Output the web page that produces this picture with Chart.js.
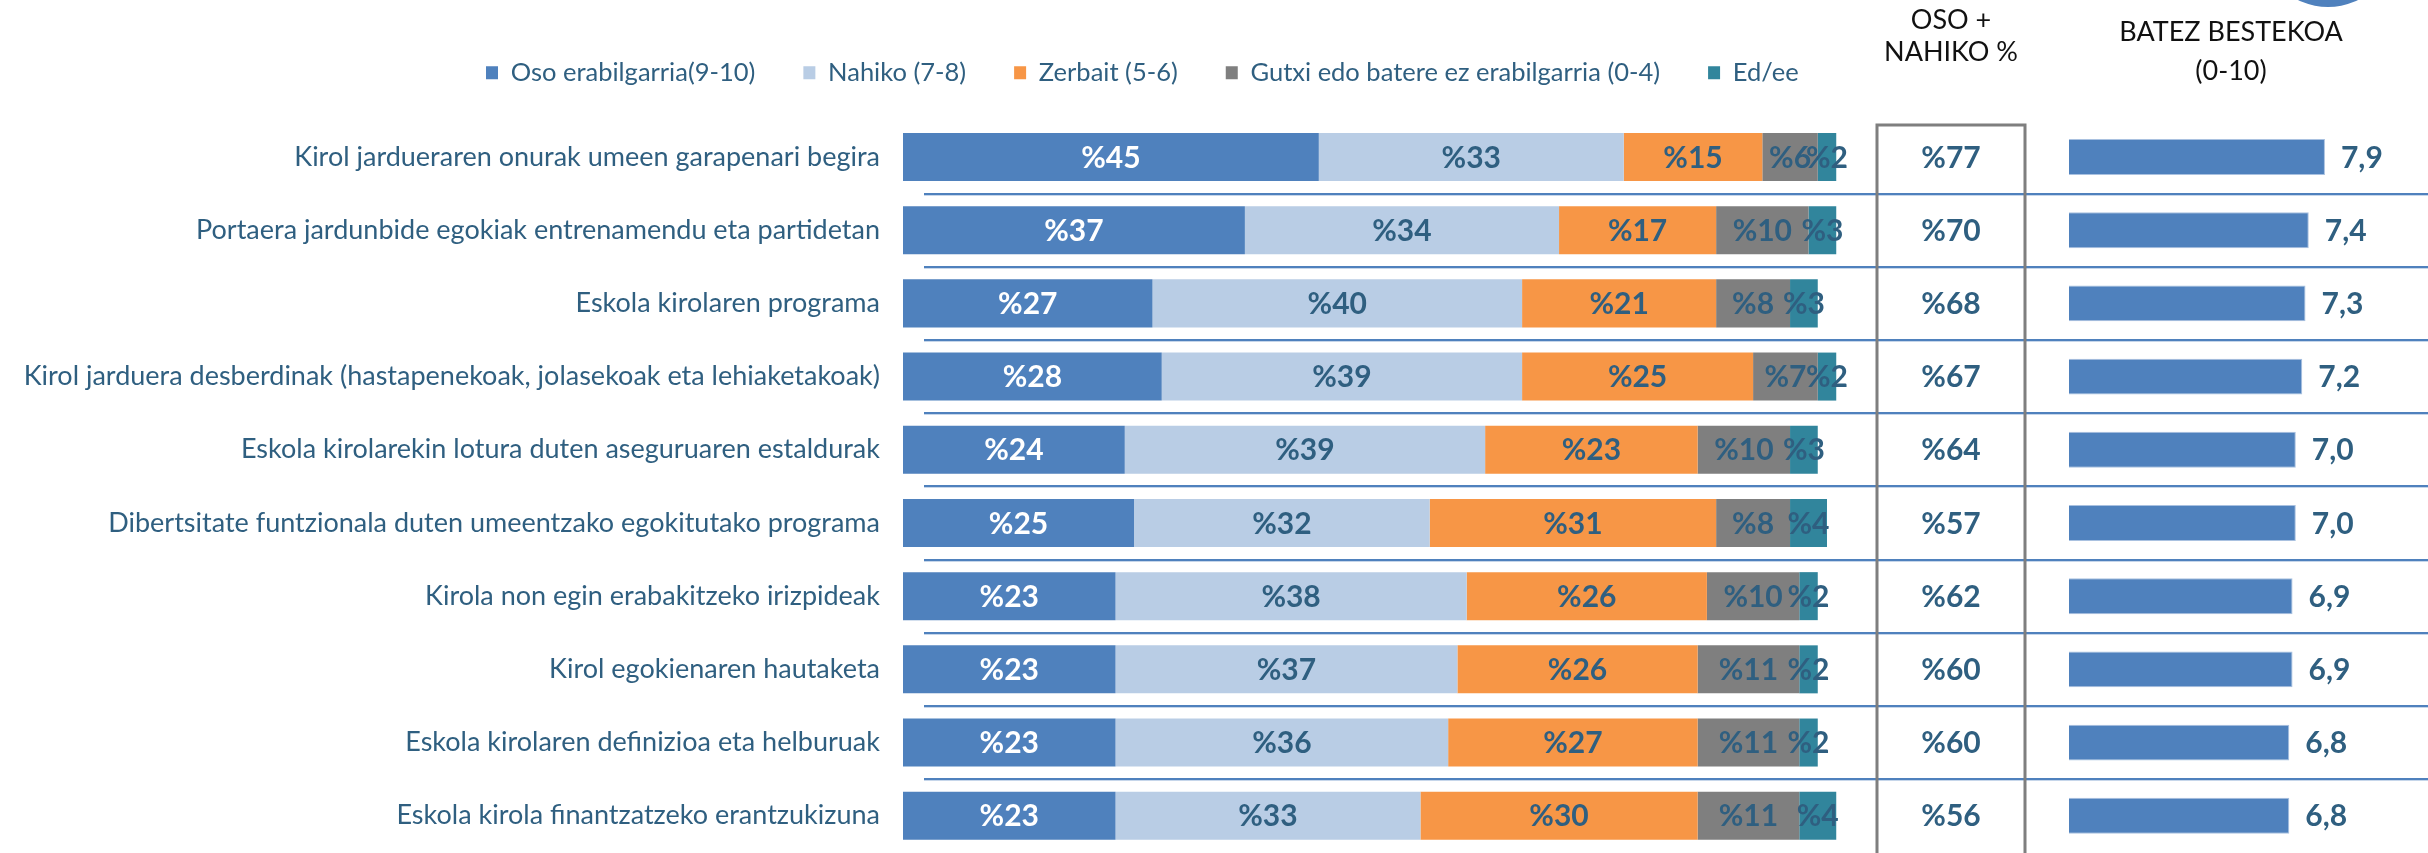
<!DOCTYPE html>
<html>
<head>
<meta charset="utf-8">
<script src="https://cdn.jsdelivr.net/npm/chart.js@4.4.0/dist/chart.umd.min.js"></script>
<style>
  html, body { margin: 0; padding: 0; background: #fff; }
  #wrap { position: relative; width: 2428px; height: 853px; overflow: hidden; }
  #wrap canvas { position: absolute; left: 0; top: 0; }
</style>
</head>
<body>
<div id="wrap">
  <canvas id="mainChart" width="2428" height="853"></canvas>
  <canvas id="meanChart" width="2428" height="853"></canvas>
</div>
<script>
const categories = [
  'Kirol jardueraren onurak umeen garapenari begira',
  'Portaera jardunbide egokiak entrenamendu eta partidetan',
  'Eskola kirolaren programa',
  'Kirol jarduera desberdinak (hastapenekoak, jolasekoak eta lehiaketakoak)',
  'Eskola kirolarekin lotura duten aseguruaren estaldurak',
  'Dibertsitate funtzionala duten umeentzako egokitutako programa',
  'Kirola non egin erabakitzeko irizpideak',
  'Kirol egokienaren hautaketa',
  'Eskola kirolaren definizioa eta helburuak',
  'Eskola kirola finantzatzeko erantzukizuna'
];
const seriesNames = ['Oso erabilgarria(9-10)', 'Nahiko (7-8)', 'Zerbait (5-6)', 'Gutxi edo batere ez erabilgarria (0-4)', 'Ed/ee'];
const osoValues     = [45, 37, 27, 28, 24, 25, 23, 23, 23, 23];
const nahikoValues  = [33, 34, 40, 39, 39, 32, 38, 37, 36, 33];
const zerbaitValues = [15, 17, 21, 25, 23, 31, 26, 26, 27, 30];
const gutxiValues   = [6, 10, 8, 7, 10, 8, 10, 11, 11, 11];
const edeeValues    = [2, 3, 3, 2, 3, 4, 2, 2, 2, 4];
const osoNahikoValues = [77, 70, 68, 67, 64, 57, 62, 60, 60, 56];
const meanValues = [7.9, 7.4, 7.3, 7.2, 7.0, 7.0, 6.9, 6.9, 6.8, 6.8];

const colors = ['#4F81BD', '#B9CDE5', '#F79646', '#7F7F7F', '#31859C'];
const textBlue = '#2F5F80';
const boldFont = 'bold 30px Lato';

// percent labels inside the stacked segments + all the side decoration
const mainDecor = {
  id: 'mainDecor',
  beforeLayout(chart) {
    const lg = chart.legend;
    if (lg && !lg._patched) {
      const fit = lg.fit;
      lg.fit = function () {
        this.maxWidth = 3000;
        fit.call(this);
        this.height = 108.4;
      };
      lg._patched = true;
    }
  },
  afterLayout(chart) {
    // legend starts where the reference legend starts
    chart.legend.left = 438;
    chart.legend.right = 2428;
  },
  afterDraw(chart) {
    const ctx = chart.ctx;
    const y = chart.scales.y;
    ctx.save();

    // row separators
    for (let i = 0; i < categories.length - 1; i++) {
      const yy = Math.round((y.getPixelForValue(i) + y.getPixelForValue(i + 1)) / 2);
      ctx.fillStyle = '#C6D6EA';
      ctx.fillRect(924, yy + 1, 2428 - 924, 1);
      ctx.fillStyle = '#4F81BD';
      ctx.fillRect(924, yy - 1, 2428 - 924, 2);
    }

    // OSO + NAHIKO box
    ctx.strokeStyle = '#7F7F7F';
    ctx.lineWidth = 3;
    ctx.beginPath();
    ctx.moveTo(1877, 860);
    ctx.lineTo(1877, 125);
    ctx.lineTo(2025, 125);
    ctx.lineTo(2025, 860);
    ctx.stroke();

    // headers
    ctx.fillStyle = '#111';
    ctx.font = '27px Lato';
    ctx.textAlign = 'center';
    ctx.textBaseline = 'middle';
    ctx.fillText('OSO +', 1951, 20);
    ctx.fillText('NAHIKO %', 1951, 52);
    ctx.fillText('BATEZ BESTEKOA', 2231, 32);
    ctx.fillText('(0-10)', 2231, 71);

    // decoration circle at top right
    ctx.fillStyle = '#4F81BD';
    ctx.beginPath();
    ctx.arc(2328, -61, 68, 0, Math.PI * 2);
    ctx.fill();

    // segment labels
    ctx.font = boldFont;
    chart.data.datasets.forEach((ds, di) => {
      const meta = chart.getDatasetMeta(di);
      meta.data.forEach((bar, i) => {
        ctx.fillStyle = di === 0 ? '#FFFFFF' : textBlue;
        ctx.fillText('%' + ds.data[i], (bar.x + bar.base) / 2, bar.y + 1);
      });
    });

    // OSO + NAHIKO values
    ctx.fillStyle = textBlue;
    osoNahikoValues.forEach((v, i) => {
      ctx.fillText('%' + v, 1951, y.getPixelForValue(i) + 1);
    });
    ctx.restore();
  }
};

const seriesData = [osoValues, nahikoValues, zerbaitValues, gutxiValues, edeeValues];

new Chart(document.getElementById('mainChart'), {
  type: 'bar',
  data: {
    labels: categories,
    datasets: seriesNames.map((name, i) => ({
      label: name,
      data: seriesData[i],
      backgroundColor: colors[i],
      barPercentage: 0.656,
      categoryPercentage: 1,
      clip: false
    }))
  },
  options: {
    responsive: false,
    animation: false,
    indexAxis: 'y',
    layout: { padding: { left: 0, right: 601, top: 12, bottom: 0.6 } },
    plugins: {
      legend: {
        position: 'top',
        align: 'start',
        labels: {
          boxWidth: 12,
          boxHeight: 13,
          padding: 48,
          color: textBlue,
          font: { family: 'Lato', size: 25.5 }
        }
      },
      tooltip: { enabled: false }
    },
    scales: {
      x: { stacked: true, min: 0, max: 100, display: false },
      y: {
        stacked: true,
        grid: { display: true, drawOnChartArea: false, drawTicks: true, tickLength: 23, tickColor: 'rgba(0,0,0,0)' },
        border: { display: false },
        ticks: { color: textBlue, font: { family: 'Lato', size: 27, lineHeight: 0.05 }, padding: 0 },
        afterFit(scale) { scale.width = 903; }
      }
    }
  },
  plugins: [mainDecor]
});

const meanLabels = {
  id: 'meanLabels',
  afterDatasetsDraw(chart) {
    const ctx = chart.ctx;
    ctx.save();
    ctx.font = boldFont;
    ctx.fillStyle = textBlue;
    ctx.textAlign = 'left';
    ctx.textBaseline = 'middle';
    chart.getDatasetMeta(0).data.forEach((bar, i) => {
      ctx.fillText(meanValues[i].toFixed(1).replace('.', ','), bar.x + 16, bar.y + 1);
    });
    ctx.restore();
  }
};

new Chart(document.getElementById('meanChart'), {
  type: 'bar',
  data: {
    labels: categories,
    datasets: [{
      label: 'BATEZ BESTEKOA',
      data: meanValues,
      backgroundColor: '#4F81BD',
      borderColor: '#A9C1E0',
      borderWidth: 1,
      barPercentage: 0.49,
      categoryPercentage: 1
    }]
  },
  options: {
    responsive: false,
    animation: false,
    indexAxis: 'y',
    layout: { padding: { left: 2069, right: 35, top: 120.4, bottom: 0.6 } },
    plugins: { legend: { display: false }, tooltip: { enabled: false } },
    scales: {
      x: { min: 0, max: 10, display: false },
      y: { display: false }
    }
  },
  plugins: [meanLabels]
});
</script>
</body>
</html>
